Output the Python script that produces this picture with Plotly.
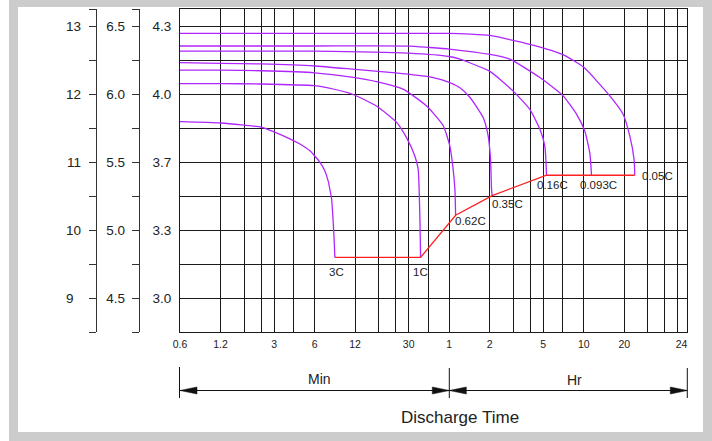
import math
import plotly.graph_objects as go

# ---------------- data (time in minutes, voltage in 12 V units) ----------------
rates = ["3C", "1C", "0.62C", "0.35C", "0.16C", "0.093C", "0.05C"]

t_3C = [0.6, 1.2, 2.4, 3.0, 4.0, 4.67, 5.54, 6.04, 6.58, 7.17, 7.58, 7.80, 8.03, 8.17, 8.31, 8.40, 8.49]
v_3C = [11.60, 11.58, 11.52, 11.45, 11.34, 11.27, 11.17, 11.09, 11.00, 10.87, 10.72, 10.60, 10.46, 10.26, 10.01, 9.82, 9.60]

t_1C = [0.6, 1.2, 2.4, 6.0, 7.4, 11.6, 17.3, 24.4, 29.0, 33.4, 35.3, 35.9, 36.4, 36.8]
v_1C = [12.16, 12.16, 12.155, 12.13, 12.10, 12.00, 11.83, 11.59, 11.36, 11.09, 10.90, 10.60, 10.12, 9.60]

t_062C = [0.6, 1.2, 2.4, 6.0, 12.0, 18.3, 27.3, 40.8, 54.2, 60.7, 64.2, 66.2, 67.0]
v_062C = [12.36, 12.36, 12.35, 12.32, 12.25, 12.18, 12.08, 11.83, 11.54, 11.24, 10.90, 10.60, 10.22]

t_035C = [0.6, 1.2, 2.4, 6.0, 12.0, 24.0, 43.1, 60.0, 72.1, 85.5, 107.3, 116.9, 121.8, 123.9, 125.2]
v_035C = [12.47, 12.46, 12.45, 12.42, 12.37, 12.32, 12.26, 12.18, 12.10, 11.96, 11.66, 11.39, 11.04, 10.60, 10.51]

t_016C = [0.6, 6.0, 30.0, 60.0, 72.1, 120.4, 179.3, 238.6, 283.0, 308.2, 317.4]
v_016C = [12.64, 12.64, 12.61, 12.56, 12.52, 12.34, 12.05, 11.78, 11.49, 11.24, 10.81]

t_0093C = [0.6, 6.0, 30.0, 41.5, 60.0, 120.4, 169.4, 283.0, 421.5, 530.1, 610.9, 665.3, 685.1]
v_0093C = [12.715, 12.715, 12.714, 12.695, 12.67, 12.59, 12.52, 12.25, 11.98, 11.71, 11.46, 11.14, 10.81]

t_005C = [0.6, 60.0, 85.5, 120.4, 238.6, 417.3, 600.6, 936.6, 1176.0, 1318.8, 1419.6, 1436.4]
v_005C = [12.90, 12.90, 12.89, 12.87, 12.74, 12.59, 12.40, 11.98, 11.71, 11.39, 11.04, 10.81]

series_t = [t_3C, t_1C, t_062C, t_035C, t_016C, t_0093C, t_005C]
series_v = [v_3C, v_1C, v_062C, v_035C, v_016C, v_0093C, v_005C]

# axis ticks
grid_minutes = [1.2, 1.8, 2.4, 3, 4.2, 6, 12, 18, 24, 30, 42, 60,
                120, 180, 240, 300, 420, 600, 1200, 1800, 2400, 3000]
time_tick_vals = [0.6, 1.2, 3, 6, 12, 30, 60, 120, 300, 600, 1200, 3200]
time_tick_text = ["0.6", "1.2", "3", "6", "12", "30", "1", "2", "5", "10", "20", "24"]

cell_tick_vals = [9, 10, 11, 12, 13]
cell_tick_text = ["3.0", "3.3", "3.7", "4.0", "4.3"]
v6_tick_vals = [4.5, 5.0, 5.5, 6.0, 6.5]
v6_tick_text = ["4.5", "5.0", "5.5", "6.0", "6.5"]
v12_tick_vals = [9, 10, 11, 12, 13]
v12_tick_text = ["9\u2007", "10", "11", "12", "13"]

T_MIN, T_MAX = 0.6, 3510
V_MIN, V_MAX = 8.5, 13.26

# ---------------- layout geometry ----------------
W, H = 712, 441
ML, MR, MT, MB = 0, 25, 9, 109
PW = W - ML - MR
PH = H - MT - MB


def px(x):
    return (x - ML) / PW


def py(y):
    return (H - MB - y) / PH


PURPLE = "#b026ff"
RED = "#ff2020"
GRID = "#1a1a1a"
AX = "#333333"
FONT = "Liberation Sans, Arial, sans-serif"

fig = go.Figure()

for t, v in zip(series_t, series_v):
    fig.add_trace(go.Scatter(x=t, y=v, mode="lines",
                             line=dict(color=PURPLE, width=1.3, shape="spline", smoothing=0.5),
                             hoverinfo="skip", showlegend=False))

end_t = [t[-1] for t in series_t]
end_v = [v[-1] for v in series_v]
fig.add_trace(go.Scatter(x=end_t, y=end_v, mode="lines",
                         line=dict(color=RED, width=1.3), hoverinfo="skip", showlegend=False))

# dummy traces to attach extra axes
fig.add_trace(go.Scatter(x=[None], y=[None], xaxis="x2", yaxis="y", showlegend=False, hoverinfo="skip"))
fig.add_trace(go.Scatter(x=[None], y=[None], xaxis="x", yaxis="y2", showlegend=False, hoverinfo="skip"))
fig.add_trace(go.Scatter(x=[None], y=[None], xaxis="x", yaxis="y3", showlegend=False, hoverinfo="skip"))

# rate labels
label_shift = {"3C": (2, -15), "1C": (0, -15), "0.62C": (15, -6), "0.35C": (15, -8),
               "0.16C": (6, -10), "0.093C": (7, -10), "0.05C": (23, -1)}
for name, t, v in zip(rates, end_t, end_v):
    dx, dy = label_shift[name]
    fig.add_annotation(x=math.log10(t), y=v, xref="x", yref="y", text=name, showarrow=False,
                       xshift=dx, yshift=dy, xanchor="center", yanchor="middle",
                       font=dict(family=FONT, size=11.5, color="#222"))

shapes = []
# gray frame
shapes.append(dict(type="rect", xref="paper", yref="paper", x0=px(9), x1=px(712), y0=py(0), y1=py(441),
                   fillcolor="#cccccc", line=dict(width=0), layer="below"))
shapes.append(dict(type="rect", xref="paper", yref="paper", x0=px(18), x1=px(703), y0=py(7), y1=py(432),
                   fillcolor="white", line=dict(width=0), layer="below"))
# bars
for bx, top in [(179.5, 367), (449.3, 368), (687.3, 368)]:
    shapes.append(dict(type="line", xref="paper", yref="paper", x0=px(bx), x1=px(bx), y0=py(top), y1=py(398),
                       line=dict(color="#111", width=1)))
# arrow lines
ay = 390.5
shapes.append(dict(type="line", xref="paper", yref="paper", x0=px(180), x1=px(687), y0=py(ay), y1=py(ay),
                   line=dict(color="#111", width=1)))


def head(tx, d):
    bx = tx - d * 17
    return dict(type="path", xref="paper", yref="paper",
                path=f"M {px(tx)},{py(ay)} L {px(bx)},{py(ay - 3.5)} L {px(bx)},{py(ay + 3.5)} Z",
                fillcolor="#111", line=dict(color="#111", width=0.5))


shapes += [head(180, -1), head(449.3, 1), head(449.3, -1), head(687.3, 1)]
fig.update_layout(shapes=shapes)

for txt, x, y, s in [("Min", 319, 379, 14), ("Hr", 574, 380, 14), ("Discharge Time", 460, 417, 17)]:
    fig.add_annotation(x=px(x), y=py(y), xref="paper", yref="paper", text=txt, showarrow=False,
                       xanchor="center", yanchor="middle", font=dict(family=FONT, size=s, color="#222"))

xr = [math.log10(T_MIN), math.log10(T_MAX)]
dom = [px(180), 1]
fig.update_layout(
    width=W, height=H,
    margin=dict(l=ML, r=MR, t=MT, b=MB, pad=0, autoexpand=False),
    paper_bgcolor="white", plot_bgcolor="rgba(0,0,0,0)",
    showlegend=False,
    font=dict(family=FONT, color="#222"),
    xaxis=dict(type="log", domain=dom, range=xr, tickmode="array", tickvals=grid_minutes,
               showticklabels=False, ticks="", showgrid=True, gridcolor=GRID, gridwidth=1,
               showline=True, mirror=True, linecolor=GRID, linewidth=1, zeroline=False),
    xaxis2=dict(type="log", overlaying="x", anchor="y", side="bottom", domain=dom, range=xr,
                tickmode="array", tickvals=time_tick_vals, ticktext=time_tick_text,
                showgrid=False, ticks="", showline=False, zeroline=False, ticklabelstandoff=4,
                tickfont=dict(family=FONT, size=10.5, color="#222")),
    yaxis=dict(range=[V_MIN, V_MAX], tickmode="array", tickvals=cell_tick_vals, ticktext=cell_tick_text,
               ticks="", showgrid=True, gridcolor=GRID, gridwidth=1, ticklabelstandoff=5,
               minor=dict(tickmode="array", tickvals=[9.5, 10.5, 11.5, 12.5], showgrid=True,
                          gridcolor=GRID, gridwidth=1, ticks=""),
               showline=True, mirror=True, linecolor=GRID, linewidth=1, zeroline=False,
               tickfont=dict(family=FONT, size=13.5, color="#222")),
    yaxis2=dict(overlaying="y", anchor="free", position=px(138.7), side="left",
                range=[V_MIN / 2, V_MAX / 2], tickmode="array", tickvals=v6_tick_vals, ticktext=v6_tick_text,
                ticks="outside", ticklen=7, tickcolor=AX, tickwidth=1, ticklabelstandoff=4,
                minor=dict(tickmode="array", tickvals=[4.25, 4.75, 5.25, 5.75, 6.25, V_MAX / 2],
                           ticks="outside", ticklen=7, tickcolor=AX, tickwidth=1, showgrid=False),
                showline=True, linecolor=AX, linewidth=1, showgrid=False, zeroline=False,
                tickfont=dict(family=FONT, size=13.5, color="#222")),
    yaxis3=dict(overlaying="y", anchor="free", position=px(95.7), side="left",
                range=[V_MIN, V_MAX], tickmode="array", tickvals=v12_tick_vals, ticktext=v12_tick_text,
                ticks="outside", ticklen=7, tickcolor=AX, tickwidth=1, ticklabelstandoff=5,
                minor=dict(tickmode="array", tickvals=[8.5, 9.5, 10.5, 11.5, 12.5, V_MAX],
                           ticks="outside", ticklen=7, tickcolor=AX, tickwidth=1, showgrid=False),
                showline=True, linecolor=AX, linewidth=1, showgrid=False, zeroline=False,
                tickfont=dict(family=FONT, size=13.5, color="#222")),
)

fig.write_html("out.html", config={"displayModeBar": False},
               post_script="document.body.style.margin='0px';document.body.style.padding='0px';")
